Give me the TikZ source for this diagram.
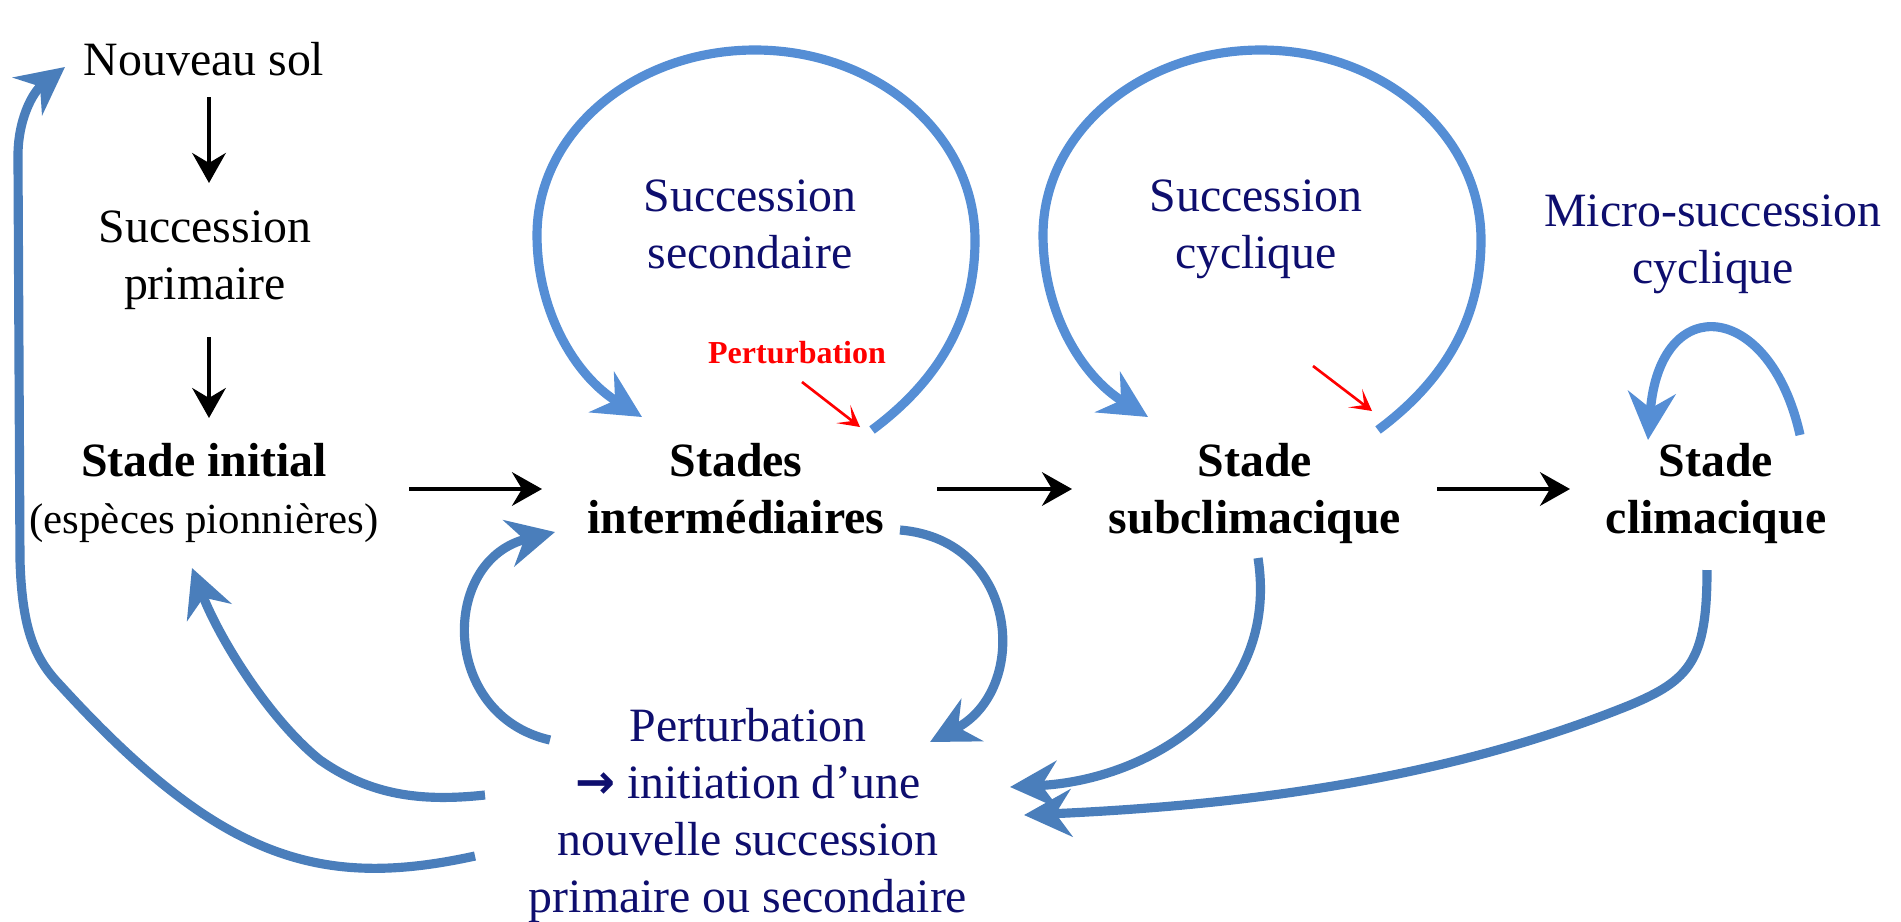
\documentclass[tikz,border=0pt]{standalone}
\usepackage{fontspec}
\setmainfont{Liberation Serif}
\newfontfamily\arrowfont{DejaVu Sans}
\usetikzlibrary{arrows.meta}
\definecolor{loopblue}{RGB}{85,142,213}
\definecolor{pathblue}{RGB}{74,126,187}
\definecolor{navytext}{RGB}{14,14,110}
\begin{document}
\begin{tikzpicture}[x=0.01cm, y=-0.01cm,
  every node/.style={inner sep=0pt, outer sep=0pt},
  % multi-line nodes are placed by the baseline of their last line
  txt/.style={font=\fontsize{13.6}{16.2}\selectfont, align=center, anchor=base},
  stage/.style={txt, font=\fontsize{13.6}{16.2}\selectfont\bfseries},
  bluetxt/.style={txt, text=navytext},
  flow/.style={line width=1.35pt, -{Stealth[length=8.5pt, width=9.5pt, inset=2.8pt]}},
  cyc/.style={line width=2.6pt, draw=loopblue, -{Stealth[length=13.5pt, width=13.5pt, inset=4.5pt]}},
  ret/.style={cyc, draw=pathblue},
  hit/.style={draw=red, line width=0.75pt, -{Stealth[length=6pt, width=6.5pt, inset=3.2pt]}}]
\useasboundingbox (0,0) rectangle (1901,921);

% ---- texts ----
\node[txt] (nsol) at (204,75) {Nouveau sol};
\node[txt] (sprim) at (205,299) {Succession\\primaire};
\node[txt] (sinit) at (204,533) {\textbf{Stade initial}\\{\fontsize{12.2}{16.2}\selectfont (espèces pionnières)}};
\node[stage] (sinter) at (736,533) {Stades\\intermédiaires};
\node[stage] (ssub) at (1255,533) {Stade\\subclimacique};
\node[stage] (sclim) at (1716,533) {Stade\\climacique};
\node[bluetxt] (lsec) at (750,268) {Succession\\secondaire};
\node[bluetxt] (lcyc) at (1256,268) {Succession\\cyclique};
\node[bluetxt] (lmicro) at (1713,283) {Micro-succession\\cyclique};
\node[txt, text=red, font=\fontsize{9.1}{11}\selectfont\bfseries] (pert) at (797,363) {Perturbation};
\node[bluetxt] (pbot) at (748,912) {Perturbation\\{\arrowfont\bfseries →} initiation d’une\\nouvelle succession\\primaire ou secondaire};

% ---- connector ends ----
\coordinate (a1s) at (209,97);   \coordinate (a1e) at (209,183);
\coordinate (a2s) at (209,337);  \coordinate (a2e) at (209,418);
\coordinate (h1s) at (409,489);  \coordinate (h1e) at (542,489);
\coordinate (h2s) at (937,489);  \coordinate (h2e) at (1072,489);
\coordinate (h3s) at (1437,489); \coordinate (h3e) at (1570,489);
\coordinate (r1s) at (802,382);  \coordinate (r1e) at (860,427);
\coordinate (r2s) at (1313,366); \coordinate (r2e) at (1372,411);

% main sequence
\draw[flow] (a1s) -- (a1e);
\draw[flow] (a2s) -- (a2e);
\draw[flow] (h1s) -- (h1e);
\draw[flow] (h2s) -- (h2e);
\draw[flow] (h3s) -- (h3e);

% disturbances
\draw[hit] (r1s) -- (r1e);
\draw[hit] (r2s) -- (r2e);

% secondary succession loop
\coordinate (c1s) at (872,430); \coordinate (c1e) at (642,417);
\draw[cyc] (c1s) .. controls (942,378) and (975,315) .. (975,240)
  .. controls (975,134) and (876,50) .. (755,50)
  .. controls (635,50) and (537,132) .. (537,235)
  .. controls (537,310) and (574,375) .. (c1e);

% cyclic succession loop
\coordinate (c2s) at (1378,430); \coordinate (c2e) at (1148,417);
\draw[cyc] (c2s) .. controls (1448,378) and (1481,315) .. (1481,240)
  .. controls (1481,134) and (1382,50) .. (1261,50)
  .. controls (1141,50) and (1043,132) .. (1043,235)
  .. controls (1043,310) and (1080,375) .. (c2e);

% micro-succession loop
\coordinate (c3s) at (1800,435); \coordinate (c3e) at (1648,440);
\draw[cyc] (c3s) .. controls (1770,300) and (1660,290) .. (c3e);

% returns after disturbance
\coordinate (b1s) at (550,740); \coordinate (b1e) at (555,532);
\draw[ret] (b1s) .. controls (440,715) and (440,560) .. (b1e);

\coordinate (b2s) at (900,530); \coordinate (b2e) at (930,742);
\draw[ret] (b2s) .. controls (1020,540) and (1030,690) .. (b2e);

\coordinate (b3s) at (1258,558); \coordinate (b3e) at (1010,787);
\draw[ret] (b3s) .. controls (1280,700) and (1150,780) .. (b3e);

\coordinate (b4s) at (1707,570); \coordinate (b4e) at (1024,815);
\draw[ret] (b4s) .. controls (1707,660) and (1690,680) .. (1630,705)
  .. controls (1450,778) and (1250,805) .. (b4e);

\coordinate (b5s) at (485,795); \coordinate (b5e) at (192,568);
\draw[ret] (b5s) .. controls (420,802) and (370,795) .. (320,760)
  .. controls (270,720) and (220,640) .. (b5e);

\coordinate (b6s) at (475,856); \coordinate (b6e) at (65,67);
\draw[ret] (b6s) .. controls (320,890) and (220,860) .. (60,685)
  .. controls (35,659) and (22,630) .. (20,560)
  -- (18,160)
  .. controls (17,120) and (33,92) .. (b6e);
\end{tikzpicture}
\end{document}
